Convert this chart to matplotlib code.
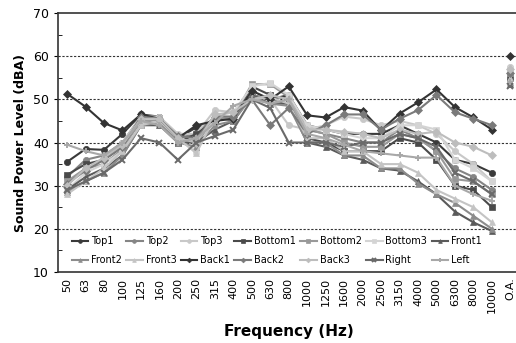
import numpy as np
import matplotlib
matplotlib.use('Agg')
import matplotlib.pyplot as plt

freqs = ['50', '63', '80', '100', '125', '160', '200', '250', '315', '400',
         '500', '630', '800', '1000', '1250', '1600', '2000', '2500', '3150',
         '4000', '5000', '6300', '8000', '10000']

top1 = [35.5, 38.5, 38.3, 42, 46.5, 46, 41, 43.5, 45, 46, 51, 50, 51, 44, 43, 42, 42, 42, 44, 42, 40, 36, 35, 33]
top2 = [32, 36, 37, 40, 46, 46, 41, 42, 46, 45, 51, 50, 49, 43, 42, 41, 40, 40, 43, 41, 38, 34, 32, 29]
top3 = [30, 34, 36, 40, 46, 46, 42, 42, 47.5, 47, 52, 50, 44, 43, 44, 46, 45.5, 44, 45, 44, 42, 38, 35, 31]
bottom1 = [32.5, 35, 36, 39, 45, 45, 40, 42, 45, 46, 53, 51, 50, 41, 40, 38, 38, 38, 41, 40, 36, 30, 29, 25]
bottom2 = [31, 34, 35, 38.5, 45, 45, 40.5, 40, 45, 46, 53.5, 53.5, 50.5, 43, 42, 40, 39, 39, 42, 41, 38, 31.5, 31, 28]
bottom3 = [29, 33, 35, 38, 44, 45, 41, 38, 46, 47, 53, 53.8, 51, 44, 43, 42, 41, 41, 44, 44, 43, 36, 34, 31]
front1 = [29, 32, 34, 37, 44, 44, 40, 40, 43, 45, 51, 49, 49, 40, 39, 37, 36, 34, 33.5, 31, 28, 24, 21.5, 19.5]
front2 = [28.5, 31, 33, 37, 44, 44.5, 40, 39, 44, 45, 50.5, 49, 48.5, 40, 40, 37, 37, 34, 34, 30.5, 28, 26, 23, 20]
front3 = [28, 31, 34, 38, 44, 45, 41, 37.5, 46, 46, 50, 50.5, 49, 41, 41, 38, 38, 35, 35, 33, 29, 27, 25, 21.5]
back1 = [51.3, 48.3, 44.5, 42.8, 46.5, 45.5, 41, 44, 45, 45.5, 52, 50, 53, 46.3, 45.8, 48.2, 47.4, 42.8, 46.7, 49.3, 52.3, 48.2, 45.8, 43]
back2 = [30.5, 33.5, 36, 39, 46, 45.5, 41.5, 41, 46, 46, 50, 44, 48, 42, 44, 46.5, 46.5, 43, 45.5, 47.5, 51, 47, 45.5, 44]
back3 = [30, 34, 36.5, 39.5, 45.5, 45.5, 41, 40, 46.5, 47, 50, 51, 50, 43, 43, 42.5, 42, 41, 43, 42, 42.5, 40, 39, 37]
right = [29, 31, 33, 36, 41, 40, 36, 40, 41.5, 43, 50, 48, 40, 40, 40, 39, 40, 40, 42, 41, 39, 33, 31, 28]
left = [39.5, 38, 37, 40, 45, 44, 40, 41, 44.5, 48.5, 50, 49, 50, 42, 41, 39.5, 38, 37.5, 37, 36.5, 36.5, 30, 28, 26.5]

# overall (O.A.) values
oa = {'Top1': 57, 'Top2': 56.5, 'Top3': 57.5, 'Bottom1': 55, 'Bottom2': 56,
      'Bottom3': 57, 'Front1': 53.5, 'Front2': 54, 'Front3': 55, 'Back1': 60,
      'Back2': 56, 'Back3': 57, 'Right': 53, 'Left': 54}

series = [
    ('Top1', top1, '#3a3a3a', 'o'),
    ('Top2', top2, '#858585', 'o'),
    ('Top3', top3, '#c8c8c8', 'o'),
    ('Bottom1', bottom1, '#4a4a4a', 's'),
    ('Bottom2', bottom2, '#999999', 's'),
    ('Bottom3', bottom3, '#d4d4d4', 's'),
    ('Front1', front1, '#5a5a5a', '^'),
    ('Front2', front2, '#8c8c8c', '^'),
    ('Front3', front3, '#c4c4c4', '^'),
    ('Back1', back1, '#333333', 'D'),
    ('Back2', back2, '#7a7a7a', 'D'),
    ('Back3', back3, '#bdbdbd', 'D'),
    ('Right', right, '#6a6a6a', 'x'),
    ('Left', left, '#a8a8a8', '+'),
]

fig = plt.figure(figsize=(5.16, 3.43), dpi=100)
ax = fig.add_axes([0.112, 0.207, 0.895, 0.755])

x = np.arange(len(freqs))
handles = []
for name, vals, col, mk in series:
    ms = 4.5 if mk != 'D' else 4
    mew = 1.4 if mk in 'x+' else 0.5
    h, = ax.plot(x, vals, color=col, marker=mk, markersize=ms, linewidth=1.5,
                 markeredgewidth=mew, label=name)
    ax.plot(len(freqs), oa[name], color=col, marker=mk, markersize=ms,
            markeredgewidth=mew, linestyle='none')
    handles.append(h)

ax.set_xlim(-0.5, len(freqs) + 0.5)
ax.set_ylim(10, 70)
ax.set_xticks(np.arange(len(freqs) + 1))
ax.set_xticklabels(freqs + ['O.A.'], rotation=90, fontsize=8)
ax.set_yticks(np.arange(10, 71, 10))
ax.set_yticks(np.arange(15, 70, 10), minor=True)
ax.tick_params(axis='y', labelsize=9, length=3)
ax.tick_params(axis='y', which='minor', length=3, direction='in')
ax.tick_params(axis='x', length=0, pad=4)

for yv in [20, 30, 40, 50, 60]:
    ax.axhline(yv, color='#333333', linestyle=(0, (2, 1.5)), linewidth=0.8, zorder=0)

for s in ['top', 'bottom', 'left']:
    ax.spines[s].set_color('#333333')
    ax.spines[s].set_linewidth(1.2)
ax.spines['right'].set_visible(False)

ax.set_ylabel('Sound Power Level (dBA)', fontsize=9, fontweight='bold')
ax.set_xlabel('Frequency (Hz)', fontsize=11, fontweight='bold', labelpad=8)

# legend is filled row by row in the reference
ncol = 7
order = []
for c in range(ncol):
    for r in range(2):
        i = r * ncol + c
        if i < len(handles):
            order.append(i)
leg = ax.legend([handles[i] for i in order], [series[i][0] for i in order],
                loc='lower left', bbox_to_anchor=(0.015, 0.0), ncol=ncol,
                fontsize=7, frameon=False, handlelength=1.7, handletextpad=0.3,
                columnspacing=0.45, markerscale=0.6, borderaxespad=0.3,
                labelspacing=0.9)

fig.savefig('out.png', dpi=100)
